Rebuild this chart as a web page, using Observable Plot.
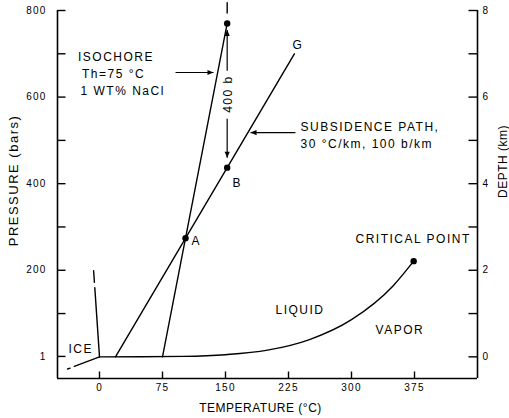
<!DOCTYPE html>
<html><head><meta charset="utf-8">
<script src="https://cdn.jsdelivr.net/npm/d3@7"></script>
<script src="https://cdn.jsdelivr.net/npm/@observablehq/plot@0.6"></script>
<style>
html,body{margin:0;padding:0;background:#fff;}
#chart svg{display:block;}
#chart svg text{letter-spacing:1.2px;}
#chart svg g.ann text{letter-spacing:1.5px;}
</style>
</head><body><div id="chart"></div>
<script>
// ---- axes ----
const tempDomain = [-50, 450];
const pressureDomain = [-50, 800];
const tempTicks = [0, 75, 150, 225, 300, 375];
const pressureTicks = [1, 200, 400, 600, 800];
const pressureMinorTicks = [100, 300, 500, 700];
const depthTicks = [0, 2, 4, 6, 8];          // km
const depthMinorTicks = [1, 3, 5, 7];        // km
const barsPerKm = 100;

// ---- phase boundaries (T °C, P bars) ----
const boilT = [0, 50, 100, 150, 200, 250, 300, 350, 374];
const boilP = [0, 0.1, 1, 5, 15.5, 40, 86, 165, 221];
const iceDashT = [-38, -35];
const iceDashP = [-28, -26];
const iceT = [-30, 0];
const iceP = [-22, 0];
const meltDashT = [-7, -6.05];
const meltDashP = [199, 172];
const meltT = [-5.6, 0];
const meltP = [160, 0];

// ---- paths ----
const isochoreT = [75, 152];
const isochoreP = [0, 770];
const subsidenceT = [19, 232];
const subsidenceP = [0, 700];
const markT = [152, 152];      // short bar above isochore end
const markP = [794, 818];

// ---- points ----
const pointNames = ["A", "B", "end", "critical point"];
const pointT = [102.4, 152, 152, 374];
const pointP = [274, 437, 770, 221];

// ---- labels ----
const labelText = ["ISOCHORE", "Th=75 °C", "1 WT% NaCl", "G", "SUBSIDENCE PATH,", "30 °C/km, 100 b/km",
                   "A", "B", "CRITICAL POINT", "LIQUID", "VAPOR", "ICE"];
const labelT = [-25.6, -20.8, -22.6, 229.8, 239.3, 239.3, 109.5, 158.3, 304.8, 209.5, 328.6, -36.9];
const labelP = [692, 654, 613, 719, 530.5, 490.5, 267.6, 401.6, 272.7, 107, 62, 17.4];
const gapLabel = "400 b";
const gapLabelT = 153.6;
const gapLabelP = 607;

// ---- arrows (isochore pointer, subsidence pointer, up to end, down to B) ----
const arrowT1 = [90.5, 233.3, 152, 152];
const arrowT2 = [135.7, 179.8, 152, 152];
const arrowP1 = [656.8, 518, 661, 550];
const arrowP2 = [656.8, 518, 755, 460];

const zip = (xs, ys) => xs.map((x, i) => ({x, y: ys[i]}));
const font = "'Liberation Sans', Arial, Helvetica, sans-serif";
const sw = 1.4;

const tickUp = {draw(c) { c.moveTo(0, 0); c.lineTo(0, -7); }};
const tickRight = {draw(c) { c.moveTo(0, 0); c.lineTo(8, 0); }};
const tickLeft = {draw(c) { c.moveTo(0, 0); c.lineTo(-9, 0); }};
const headRight = {draw(c) { c.moveTo(0, 0); c.lineTo(-6, -2.6); c.lineTo(-6, 2.6); c.closePath(); }};
const headLeft = {draw(c) { c.moveTo(0, 0); c.lineTo(6, -2.6); c.lineTo(6, 2.6); c.closePath(); }};
const headUp = {draw(c) { c.moveTo(0, 0); c.lineTo(-2.6, 6); c.lineTo(2.6, 6); c.closePath(); }};
const headDown = {draw(c) { c.moveTo(0, 0); c.lineTo(-2.6, -6); c.lineTo(2.6, -6); c.closePath(); }};

const labels = labelText.map((t, i) => ({text: t, x: labelT[i], y: labelP[i]}));
const points = pointNames.map((n, i) => ({name: n, x: pointT[i], y: pointP[i]}));
const arrows = arrowT1.map((t, i) => ({x1: t, x2: arrowT2[i], y1: arrowP1[i], y2: arrowP2[i]}));
const depthAll = [...depthTicks, ...depthMinorTicks].map(d => d * barsPerKm);
const head = (i, symbol) => Plot.dot([arrows[i]], {x: "x2", y: "y2", symbol, fill: "#000", stroke: "none"});

const chart = Plot.plot({
  width: 509, height: 418,
  marginLeft: 57, marginRight: 32, marginTop: 10, marginBottom: 40,
  style: {fontFamily: font, fontSize: "10px", color: "#000", background: "#fff"},
  x: {domain: tempDomain, axis: null},
  y: {domain: pressureDomain, axis: null},
  marks: [
    // frame (left, right, bottom)
    Plot.ruleX([tempDomain[0], tempDomain[1]], {stroke: "#000", strokeWidth: 1.6}),
    Plot.ruleY([pressureDomain[0]], {stroke: "#000", strokeWidth: 1.6}),
    // inward ticks
    Plot.dot(tempTicks, {x: d => d, y: pressureDomain[0], symbol: tickUp, fill: "none", stroke: "#000", strokeWidth: 1.4}),
    Plot.dot([...pressureTicks, ...pressureMinorTicks], {x: tempDomain[0], y: d => d, symbol: tickRight, fill: "none", stroke: "#000", strokeWidth: 1.4}),
    Plot.dot(depthAll, {x: tempDomain[1], y: d => d, symbol: tickLeft, fill: "none", stroke: "#000", strokeWidth: 1.4}),
    // tick labels
    Plot.axisX(tempTicks, {anchor: "bottom", tickSize: 0, tickPadding: 5, label: null, fontSize: 10, fontFamily: font}),
    Plot.axisY(pressureTicks, {anchor: "left", tickSize: 0, tickPadding: 11, label: null, tickFormat: d => String(d), fontSize: 10, fontFamily: font}),
    Plot.axisY(depthTicks.map(d => d * barsPerKm), {anchor: "right", tickSize: 0, tickPadding: 5, label: null, tickFormat: d => String(d / barsPerKm), fontSize: 10, fontFamily: font}),
    // axis titles
    Plot.text(["TEMPERATURE (°C)"], {frameAnchor: "bottom", textAnchor: "middle", lineAnchor: "middle", dx: -7, dy: 30, fontSize: 12, fontFamily: font, className: "ttl-x"}),
    Plot.text(["PRESSURE (bars)"], {frameAnchor: "left", textAnchor: "middle", lineAnchor: "middle", dx: -43.5, dy: -14, rotate: -90, fontSize: 13, fontFamily: font, className: "ttl-y"}),
    Plot.text(["DEPTH (km)"], {frameAnchor: "right", textAnchor: "middle", lineAnchor: "middle", dx: 26, dy: -33, rotate: -90, fontSize: 12, fontFamily: font, className: "ttl-d"}),
    // phase boundaries
    Plot.line(zip(boilT, boilP), {x: "x", y: "y", curve: "monotone-x", stroke: "#000", strokeWidth: sw}),
    Plot.line(zip(iceDashT, iceDashP), {x: "x", y: "y", stroke: "#000", strokeWidth: sw}),
    Plot.line(zip(iceT, iceP), {x: "x", y: "y", stroke: "#000", strokeWidth: sw}),
    Plot.line(zip(meltDashT, meltDashP), {x: "x", y: "y", stroke: "#000", strokeWidth: sw}),
    Plot.line(zip(meltT, meltP), {x: "x", y: "y", stroke: "#000", strokeWidth: sw}),
    // isochore & subsidence path
    Plot.line(zip(isochoreT, isochoreP), {x: "x", y: "y", stroke: "#000", strokeWidth: sw}),
    Plot.line(zip(subsidenceT, subsidenceP), {x: "x", y: "y", stroke: "#000", strokeWidth: sw}),
    Plot.line(zip(markT, markP), {x: "x", y: "y", stroke: "#000", strokeWidth: sw}),
    // arrows
    Plot.link(arrows, {x1: "x1", y1: "y1", x2: "x2", y2: "y2", stroke: "#000", strokeWidth: 1.2}),
    head(0, headRight), head(1, headLeft), head(2, headUp), head(3, headDown),
    // points
    Plot.dot(points, {x: "x", y: "y", r: 3.2, fill: "#000"}),
    // labels
    Plot.text(labels, {x: "x", y: "y", text: "text", textAnchor: "start", fontSize: 12, fontFamily: font, className: "ann"}),
    Plot.text([gapLabel], {x: gapLabelT, y: gapLabelP, rotate: -90, fontSize: 12, fontFamily: font, className: "ann"})
  ]
});
document.getElementById("chart").appendChild(chart);
// per-title letter spacing
chart.querySelectorAll("[class*='ttl-x'] text").forEach(t => t.style.letterSpacing = "0.5px");
chart.querySelectorAll("[class*='ttl-y'] text").forEach(t => t.style.letterSpacing = "1.5px");
chart.querySelectorAll("[class*='ttl-d'] text").forEach(t => t.style.letterSpacing = "0.5px");
chart.querySelectorAll("[class*='ann'] text").forEach(t => t.style.letterSpacing = "1.5px");
</script>
</body></html>
